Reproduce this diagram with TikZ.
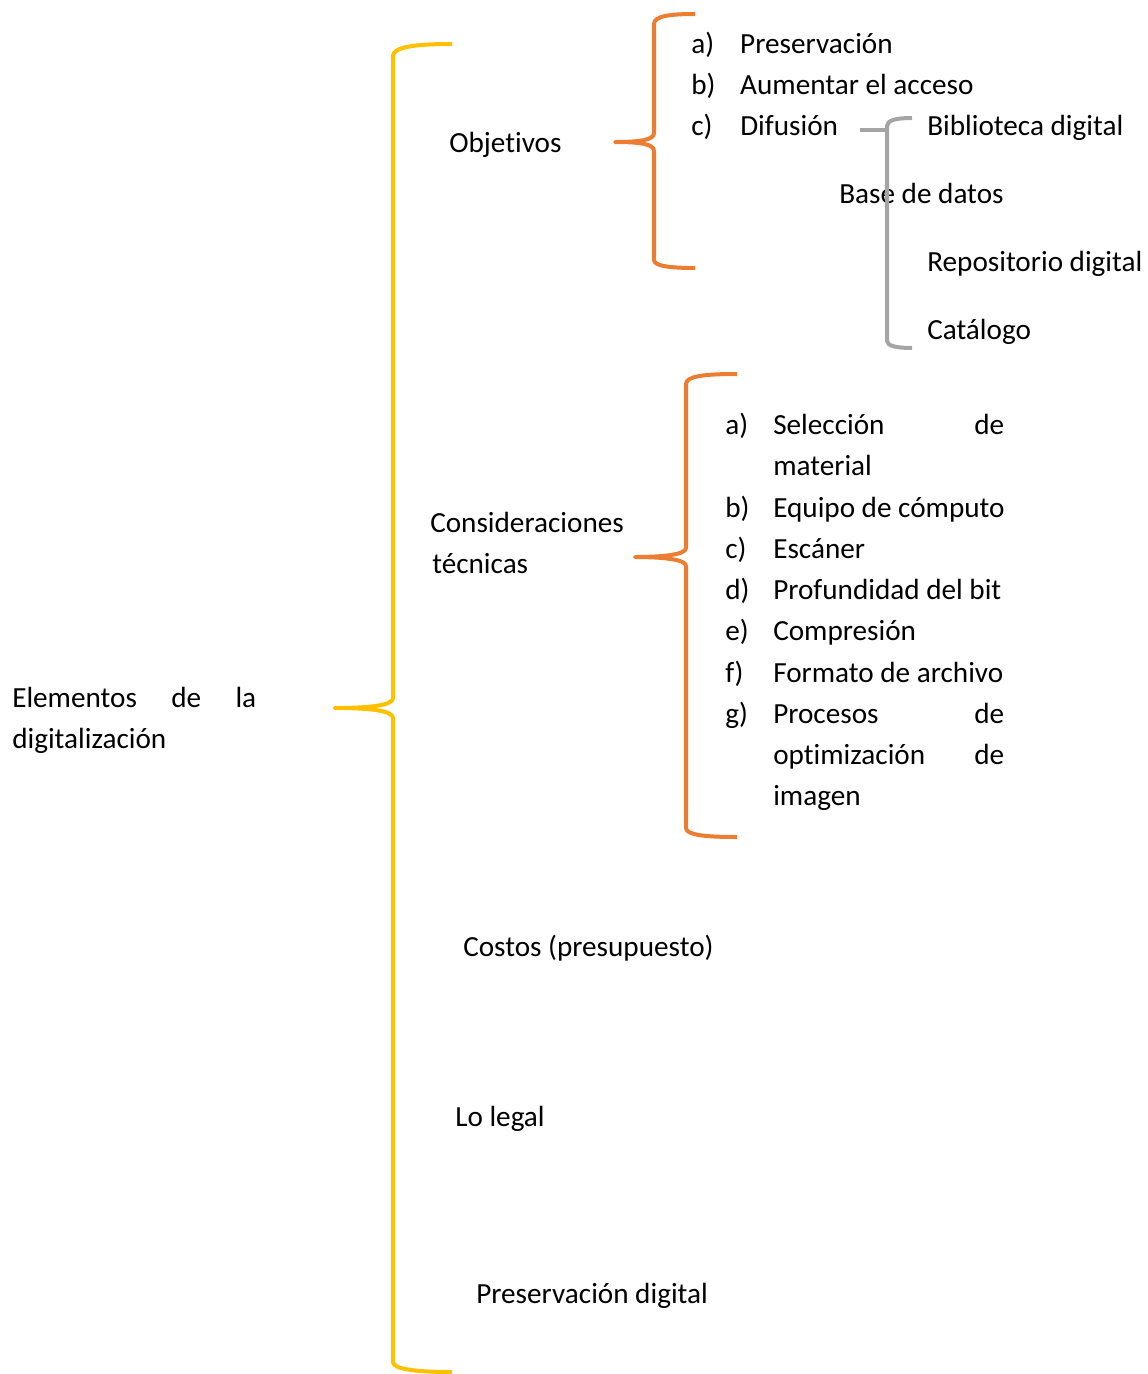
\documentclass[tikz,border=0pt]{standalone}
\usepackage{fontspec}
\setmainfont{Carlito}[Ligatures={NoCommon}]
\definecolor{ybr}{HTML}{FFC000}
\definecolor{obr}{HTML}{ED7D31}
\definecolor{gbr}{HTML}{A5A5A5}
\begin{document}
\begin{tikzpicture}[x=0.75pt,y=-0.75pt,
  txt/.style={anchor=base west, inner sep=0pt, font=\fontsize{21.9}{26}\selectfont},
  ybrace/.style={draw=ybr, line width=3pt, line join=round},
  obrace/.style={draw=obr, line width=3pt, line join=round},
  gbrace/.style={draw=gbr, line width=3pt, line join=round}]
\useasboundingbox (0,0) rectangle (1148,1374);

% root
\node[txt] (root1) at (12,707) {\makebox[183pt][s]{Elementos de la}};
\node[txt] (root2) at (12,748) {digitalización};

% second level
\node[txt] (obj) at (449,152) {Objetivos};
\node[txt] (cons1) at (430,532) {Consideraciones};
\node[txt] (cons2) at (432,573) {técnicas};
\node[txt] (cost) at (463,956) {Costos (presupuesto)};
\node[txt] (legal) at (455,1126) {Lo legal};
\node[txt] (pres) at (476,1303) {Preservación digital};

% objetivos list
\node[txt] (oa) at (691,53) {\makebox[36.75pt][l]{a)}Preservación};
\node[txt] (ob) at (691,94) {\makebox[36.75pt][l]{b)}Aumentar el acceso};
\node[txt] (oc) at (691,135) {\makebox[36.75pt][l]{c)}Difusión};

% difusion list
\node[txt] (d1) at (927,135) {Biblioteca digital};
\node[txt] (d2) at (839,203) {Base de datos};
\node[txt] (d3) at (927,271) {Repositorio digital};
\node[txt] (d4) at (927,339) {Catálogo};

% consideraciones list
\node[txt] (ca) at (725,434) {\makebox[36pt][l]{a)}\makebox[173.25pt][s]{Selección de}};
\node[txt] (ca2) at (773,475) {material};
\node[txt] (cb) at (725,517) {\makebox[36pt][l]{b)}Equipo de cómputo};
\node[txt] (cc) at (725,558) {\makebox[36pt][l]{c)}Escáner};
\node[txt] (cd) at (725,599) {\makebox[36pt][l]{d)}Profundidad del bit};
\node[txt] (ce) at (725,640) {\makebox[36pt][l]{e)}Compresión};
\node[txt] (cf) at (725,682) {\makebox[36pt][l]{f)}Formato de archivo};
\node[txt] (cg) at (725,723) {\makebox[36pt][l]{g)}\makebox[173.25pt][s]{Procesos de}};
\node[txt] (cg2) at (773,764) {\makebox[173.25pt][s]{optimización de}};
\node[txt] (cg3) at (773,805) {imagen};

% yellow brace
\draw[ybrace] (452,44) .. controls (415,44) and (393,47) .. (393,56)
  -- (393,698) .. controls (393,705) and (372,708) .. (335,708)
  .. controls (372,708) and (393,711) .. (393,718)
  -- (393,1362) .. controls (393,1369) and (415,1372) .. (452,1372);

% orange brace 1
\draw[obrace] (695,14) .. controls (670,14) and (654,16) .. (654,24)
  -- (654,133) .. controls (654,140) and (640,142) .. (615,142)
  .. controls (640,142) and (654,144) .. (654,151)
  -- (654,260) .. controls (654,266) and (670,268) .. (695,268);

% orange brace 2
\draw[obrace] (737,374) .. controls (705,374) and (686,376) .. (686,384)
  -- (686,548) .. controls (686,555) and (660,557) .. (635,557)
  .. controls (660,557) and (686,559) .. (686,566)
  -- (686,828) .. controls (686,835) and (705,837) .. (737,837);

% gray bracket
\draw[gbrace] (912,118) .. controls (897,118) and (887,120) .. (887,126)
  -- (887,341) .. controls (887,346) and (897,348) .. (912,348);
\draw[gbrace] (860,130) -- (887,130);
\end{tikzpicture}
\end{document}
